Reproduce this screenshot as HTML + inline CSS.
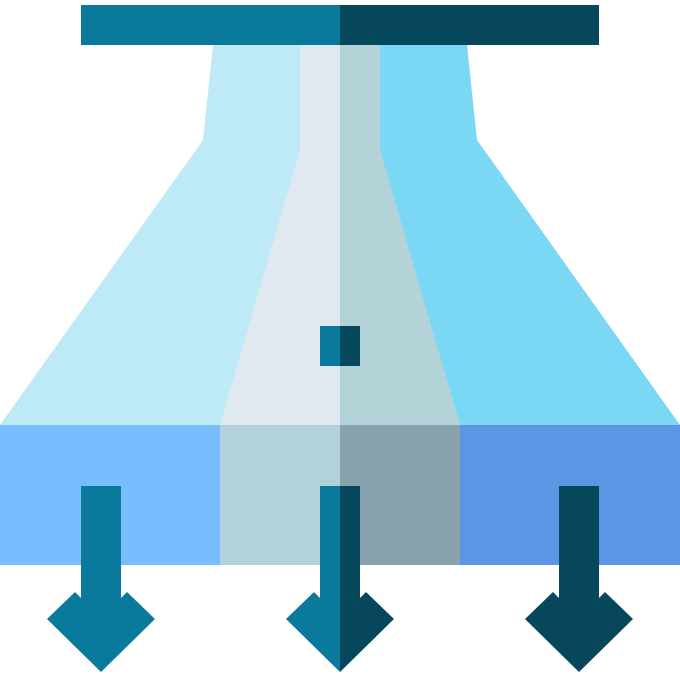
<!DOCTYPE html>
<html><head><style>html,body{margin:0;padding:0;background:#fff}</style></head>
<body>
<svg width="680" height="680" viewBox="0 0 680 680" xmlns="http://www.w3.org/2000/svg">
<rect x="81" y="5" width="259" height="40" fill="#0A7A9C"/>
<rect x="340" y="5" width="259" height="40" fill="#07475B"/>
<polygon points="213,45 340,45 340,425 0,425 203,140" fill="#BEEAF8"/>
<polygon points="340,45 467,45 477,140 680,425 340,425" fill="#7BD8F5"/>
<polygon points="300,45 340,45 340,425 220,425 300,150" fill="#E1E9F0"/>
<polygon points="340,45 380,45 380,150 460,425 340,425" fill="#B3D3D9"/>
<rect x="0" y="425" width="220" height="140" fill="#78BEFF"/>
<rect x="220" y="425" width="120" height="140" fill="#B1D2D9"/>
<rect x="340" y="425" width="120" height="140" fill="#88A2AE"/>
<rect x="460" y="425" width="220" height="140" fill="#5A96E3"/>
<rect x="320" y="326" width="20" height="40" fill="#0A7A9C"/>
<rect x="340" y="326" width="20" height="40" fill="#07475B"/>
<polygon points="81,486 121,486 121,598 127,592 155,619 101,672 47,619 75,592 81,598" fill="#0A7A9C"/>
<polygon points="320,486 340,486 340,672 286,619 314,592 320,598" fill="#0A7A9C"/>
<polygon points="340,486 360,486 360,598 366,592 394,619 340,672" fill="#07475B"/>
<polygon points="559,486 599,486 599,598 605,592 633,619 579,672 525,619 553,592 559,598" fill="#07475B"/>
</svg>
</body></html>
